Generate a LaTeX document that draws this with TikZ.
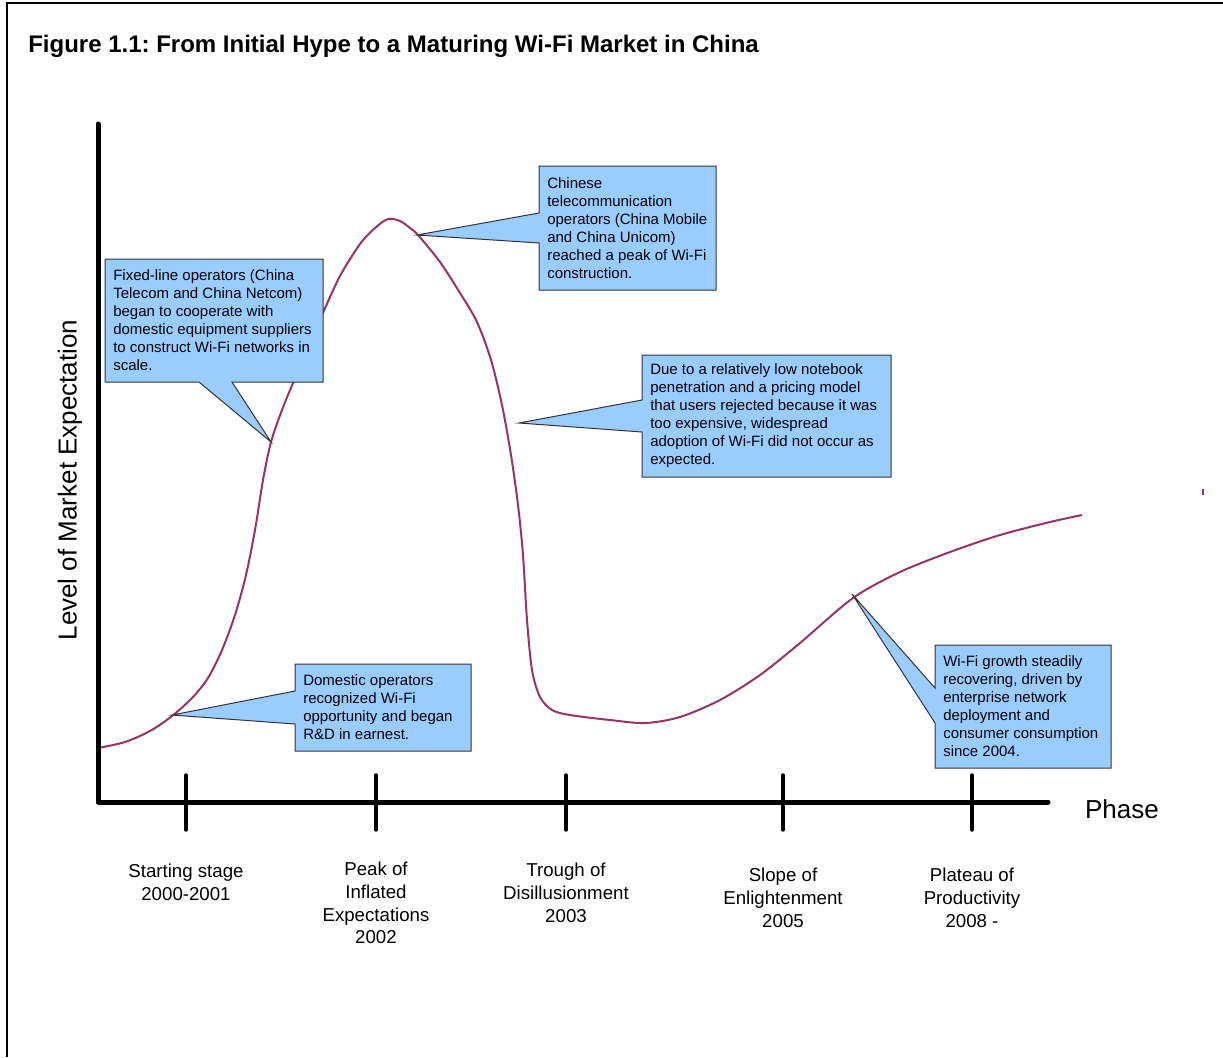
\documentclass[tikz,border=0pt]{standalone}
\usepackage{fontspec}
\setmainfont{Liberation Sans}
\usetikzlibrary{calc}
\definecolor{curvecol}{HTML}{993366}
\definecolor{callfill}{HTML}{99CCFF}
\definecolor{calledge}{HTML}{333333}
\frenchspacing

\begin{document}
\begin{tikzpicture}[x=0.75pt,y=-0.75pt,
  frame/.style={line width=1.5pt},
  axis/.style={line width=3.75pt, line cap=round, line join=round},
  tickmark/.style={line width=2.6pt, line cap=round},
  hype/.style={draw=curvecol, line width=1.5pt},
  box/.style={inner sep=0pt, outer sep=0pt, anchor=north west},
  callout/.style={fill=callfill, draw=calledge, line width=0.75pt, line join=miter},
  calltext/.style={anchor=west, align=left, inner sep=0pt, font=\fontsize{11.25}{13.5}\selectfont},
  phaselabel/.style={anchor=north, align=center, inner sep=0pt, font=\fontsize{14}{17}\selectfont},
  axislabel/.style={inner sep=0pt, font=\fontsize{19.5}{23}\selectfont},
]
\useasboundingbox (0,0) rectangle (1223,1057);

% page frame
\draw[frame] (7,1057) -- (7,3) -- (1223,3);

% title
\node[anchor=base west, inner sep=0pt, font=\fontsize{18}{21}\selectfont\bfseries] (title) at (28,52)
  {Figure 1.1: From Initial Hype to a Maturing Wi-Fi Market in China};

% hype curve
\draw[hype] plot[smooth, tension=0.5] coordinates {
  (98,748) (125,742) (150,731) (172,716) (192,698) (208,678) (222,650)
  (235,615) (246,575) (255,530) (263,480) (271,442) (282,410) (293,383)
  (307,350) (322,315) (340,276) (360,244) (375,228) (388,219) (400,221)
  (410,228) (418,235) (440,262) (460,293) (477,322) (491,360) (502,405)
  (511,455) (518,505) (523,555) (527,620) (532,670) (540,697) (552,710)
  (570,715) (610,720) (645,723) (680,717) (720,700) (760,675) (800,643)
  (853,598) (900,572) (950,552) (1000,535) (1050,522) (1082,515)};
\draw[curvecol, line width=0.9pt] (1203,489) -- (1203,495);

% axes
\coordinate (O) at (98,802);
\coordinate (ytop) at (98,124);
\coordinate (xend) at (1048,802);
\draw[axis] (ytop) -- (O) -- (xend);

% phase ticks
\foreach \n/\x in {s1/186, s2/376, s3/566, s4/783, s5/972}{
  \coordinate (\n top) at (\x,775);
  \coordinate (\n bot) at (\x,830);
  \draw[tickmark] (\n top) -- (\n bot);
}

% axis labels
\node[axislabel] (phase) at (1122,809) {Phase};
\node[axislabel, rotate=90] (ylab) at (70,480) {Level of Market Expectation};

% phase labels
\node[phaselabel] (l1) at (186,864) {Starting stage\\2000-2001};
\node[phaselabel] (l2) at (376,862) {Peak of\\Inflated\\Expectations\\2002};
\node[phaselabel] (l3) at (566,863) {Trough of\\Disillusionment\\2003};
\node[phaselabel] (l4) at (783,868) {Slope of\\Enlightenment\\2005};
\node[phaselabel] (l5) at (972,868) {Plateau of\\Productivity\\2008 -};

% callout frames
\node[box, minimum width=163.5pt, minimum height=92.25pt] (b1) at (105,259) {};
\node[box, minimum width=132.75pt, minimum height=93pt]   (b2) at (539,166) {};
\node[box, minimum width=186.75pt, minimum height=91.5pt] (b3) at (642,355) {};
\node[box, minimum width=132pt,    minimum height=65.25pt] (b4) at (295,664) {};
\node[box, minimum width=132pt,    minimum height=92.25pt] (b5) at (935,645) {};

% pointer tips
\coordinate (t1) at (271,442);
\coordinate (t2) at (417,235);
\coordinate (t3) at (519,423);
\coordinate (t4) at (172,715);
\coordinate (t5) at (852,594);

\filldraw[callout] (b1.north west) -- (b1.north east) -- (b1.south east)
  -- ($(b1.south west)+(127,0)$) -- (t1) -- ($(b1.south west)+(94,0)$) -- (b1.south west) -- cycle;
\filldraw[callout] (b2.north west) -- (b2.north east) -- (b2.south east) -- (b2.south west)
  -- ($(b2.north west)+(0,77)$) -- (t2) -- ($(b2.north west)+(0,47)$) -- cycle;
\filldraw[callout] (b3.north west) -- (b3.north east) -- (b3.south east) -- (b3.south west)
  -- ($(b3.north west)+(0,77)$) -- (t3) -- ($(b3.north west)+(0,45)$) -- cycle;
\filldraw[callout] (b4.north west) -- (b4.north east) -- (b4.south east) -- (b4.south west)
  -- ($(b4.north west)+(0,60)$) -- (t4) -- ($(b4.north west)+(0,27)$) -- cycle;
\filldraw[callout] (b5.north west) -- (b5.north east) -- (b5.south east) -- (b5.south west)
  -- ($(b5.north west)+(0,78)$) -- (t5) -- ($(b5.north west)+(0,43)$) -- cycle;

% callout texts
\node[calltext] (b1t) at ($(b1.west)+(8,0)$) {Fixed-line operators (China\\Telecom and China Netcom)\\began to cooperate with\\domestic equipment suppliers\\to construct Wi-Fi networks in\\scale.};
\node[calltext] (b2t) at ($(b2.west)+(8,0)$) {Chinese\\telecommunication\\operators (China Mobile\\and China Unicom)\\reached a peak of Wi-Fi\\construction.};
\node[calltext] (b3t) at ($(b3.west)+(8,0)$) {Due to a relatively low notebook\\penetration and a pricing model\\that users rejected because it was\\too expensive, widespread\\adoption of Wi-Fi did not occur as\\expected.};
\node[calltext] (b4t) at ($(b4.west)+(8,0)$) {Domestic operators\\recognized Wi-Fi\\opportunity and began\\R\&D in earnest.};
\node[calltext] (b5t) at ($(b5.west)+(8,0)$) {Wi-Fi growth steadily\\recovering, driven by\\enterprise network\\deployment and\\consumer consumption\\since 2004.};
\end{tikzpicture}
\end{document}
